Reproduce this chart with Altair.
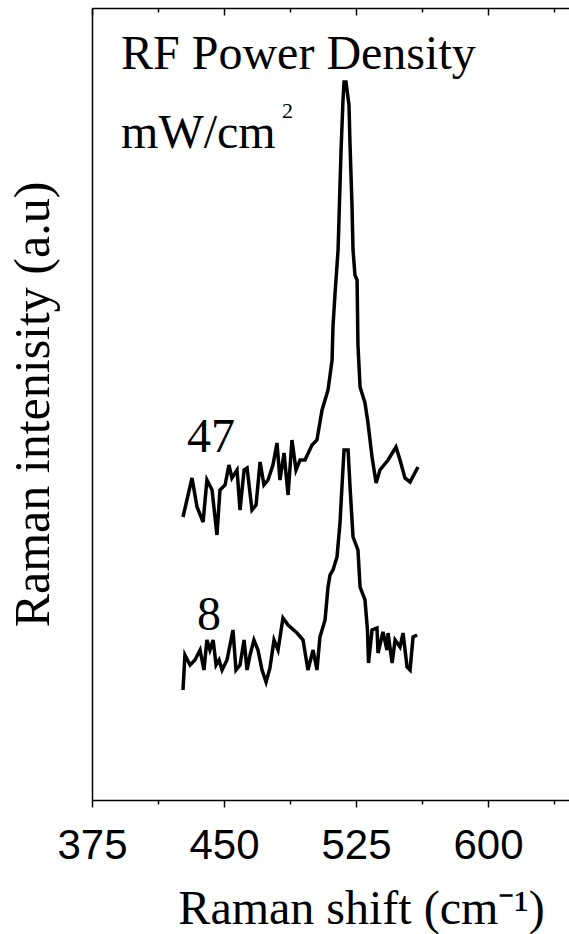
import altair as alt
import pandas as pd

# Raman shift (cm-1) and intensity (a.u.)
shift_47 = [426.7, 431.8, 434.7, 438.1, 440.3, 443.2, 446.0, 447.7, 450.6, 452.8,
            454.5, 457.4, 459.1, 461.4, 463.1, 465.9, 468.2, 470.5, 472.7, 475.0,
            477.8, 480.1, 481.8, 484.1, 486.4, 488.6, 490.9, 493.2, 496.0, 500.0,
            502.8, 505.7, 507.4, 509.1, 511.4, 511.9, 513.1, 514.8, 516.5, 517.6,
            518.2, 519.3, 521.0, 521.6, 522.7, 523.3, 524.4, 525.6, 526.1, 527.3,
            530.1, 531.8, 534.1, 536.4, 538.6, 543.2, 547.7, 550.0, 552.8, 555.7,
            560.2]
inten_47 = [283, 322, 293, 278, 320, 310, 265, 310, 315, 335,
            322, 330, 290, 330, 332, 290, 295, 338, 315, 320,
            335, 357, 320, 347, 305, 360, 330, 340, 340, 355,
            360, 390, 400, 410, 440, 473, 507, 550, 650, 700,
            718, 718, 695, 655, 595, 550, 525, 520, 455, 413,
            397, 377, 343, 317, 330, 340, 353, 340, 322, 318,
            333]

shift_8 = [426.7, 427.8, 430.7, 433.5, 436.4, 438.6, 440.3, 442.0, 443.8, 445.5,
           447.2, 448.9, 451.7, 455.1, 456.8, 459.1, 461.4, 463.1, 464.8, 467.0,
           469.3, 471.6, 473.9, 476.1, 478.4, 480.7, 483.5, 486.4, 491.5, 494.9,
           497.7, 500.6, 502.8, 504.5, 507.4, 509.1, 510.2, 511.9, 514.2, 515.9,
           517.0, 518.2, 520.5, 521.6, 523.3, 526.1, 527.3, 530.1, 531.5, 532.1,
           534.1, 536.9, 537.5, 540.3, 542.6, 543.2, 545.5, 547.2, 550.0, 551.7,
           554.0, 555.7, 557.4, 559.7]
inten_8 = [110, 145, 135, 140, 150, 130, 160, 150, 160, 135,
           140, 130, 140, 170, 130, 135, 160, 130, 145, 160,
           150, 130, 118, 132, 160, 150, 182, 175, 167, 160,
           130, 150, 130, 163, 180, 213, 225, 230, 243, 277,
           313, 350, 350, 313, 263, 250, 213, 200, 170, 137,
           170, 172, 147, 168, 150, 167, 137, 160, 153, 167,
           133, 130, 163, 165]

x_domain = [375, 646]
y_domain = [0, 792]
tick_values = [375, 412.5, 450, 487.5, 525, 562.5, 600, 637.5]

# annotations (text, x, y, size)
ann_text = ["RF Power Density", "mW/cm", "2", "47", "8"]
ann_x = [391.5, 391.5, 483.0, 429.0, 434.7]
ann_y = [731, 652, 682, 348, 170]
ann_size = [48, 48, 22, 48, 48]

assert len(shift_47) == len(inten_47)
assert len(shift_8) == len(inten_8)

df = pd.concat([
    pd.DataFrame({"shift": shift_47, "inten": inten_47, "series": "47",
                  "idx": range(len(shift_47))}),
    pd.DataFrame({"shift": shift_8, "inten": inten_8, "series": "8",
                  "idx": range(len(shift_8))}),
], ignore_index=True)

xscale = alt.Scale(domain=x_domain, nice=False, zero=False)
yscale = alt.Scale(domain=y_domain, nice=False, zero=False)

major_test = "datum.value % 75 == 0"

bottom_axis = alt.Axis(
    orient="bottom", values=tick_values,
    labelExpr=f"{major_test} ? datum.label : ''",
    tickSize={"condition": {"test": major_test, "value": 7}, "value": 4},
    tickColor="black", tickWidth=1.5,
    domainColor="black", domainWidth=1.5,
    labelFont="Liberation Sans", labelFontSize=42, labelColor="black",
    labelPadding=18, labelFlush=False, labelOverlap=False, grid=False,
    title="Raman shift (cm⁻¹)", titleFont="Liberation Serif", titleFontSize=48,
    titleFontWeight="normal", titleColor="black",
    titleX=269, titleY=123, titleAlign="center", titleBaseline="alphabetic",
)

top_axis = alt.Axis(
    orient="top", values=tick_values, labels=False,
    tickSize={"condition": {"test": major_test, "value": -7}, "value": -4},
    tickColor="black", tickWidth=1.5,
    domainColor="black", domainWidth=1.5, grid=False, title="",
)

left_axis = alt.Axis(
    orient="left", ticks=False, labels=False, grid=False,
    domainColor="black", domainWidth=1.5,
    title="Raman intenisity (a.u)", titleFont="Liberation Serif", titleFontSize=50,
    titleFontWeight="normal", titleColor="black", titleAngle=270,
    titleX=-44, titleY=396, titleAlign="center", titleBaseline="alphabetic",
)

lines = alt.Chart(df).mark_line(color="black", strokeWidth=3.5).encode(
    x=alt.X("shift:Q", scale=xscale, axis=bottom_axis),
    y=alt.Y("inten:Q", scale=yscale, axis=left_axis),
    detail="series:N",
    order="idx:Q",
)

ghost = alt.Chart(df).mark_line(strokeOpacity=0).encode(
    x=alt.X("shift:Q", scale=xscale, axis=top_axis),
    y=alt.Y("inten:Q", scale=yscale, axis=None),
    detail="series:N",
    order="idx:Q",
)

layers = [lines, ghost]
for t, xv, yv, s in zip(ann_text, ann_x, ann_y, ann_size):
    d = pd.DataFrame({"t": [t], "x": [xv], "y": [yv]})
    layers.append(
        alt.Chart(d).mark_text(font="Liberation Serif", fontSize=s, color="black",
                               align="left", baseline="alphabetic").encode(
            x=alt.X("x:Q", scale=xscale, axis=None),
            y=alt.Y("y:Q", scale=yscale, axis=None),
            text="t:N",
        )
    )

chart = alt.layer(*layers).resolve_axis(x="independent", y="independent").properties(
    width=477, height=792,
    autosize=alt.AutoSizeParams(type="none"),
    padding={"left": 92, "top": 8, "right": 0, "bottom": 134},
    background="white",
).configure_view(stroke=None)

chart.save("out.html", embed_options={"renderer": "svg", "actions": False})
